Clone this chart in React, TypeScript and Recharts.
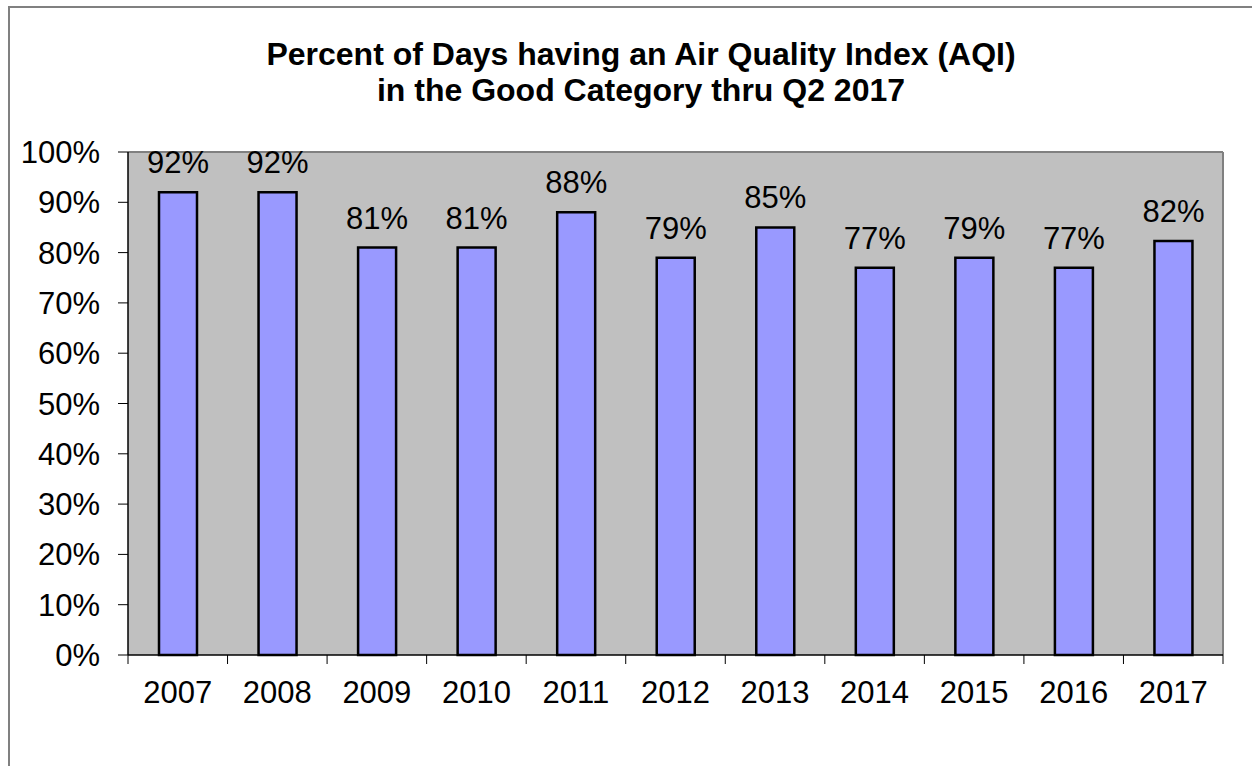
import { BarChart, Bar, XAxis, YAxis, CartesianGrid, LabelList } from 'recharts';

// Percent of days in the "Good" AQI category, by year (2017 = thru Q2)
const years = ['2007', '2008', '2009', '2010', '2011', '2012', '2013', '2014', '2015', '2016', '2017'];
const goodPct = [92, 92, 81, 81, 88, 79, 85, 77, 79, 77, 82.3];
const yTicks = [0, 10, 20, 30, 40, 50, 60, 70, 80, 90, 100];
const titleLines = ['Percent of Days having an Air Quality Index (AQI)', 'in the Good Category thru Q2 2017'];

const data = years.map((year, i) => ({ year, value: goodPct[i] }));

const FONT = '"Liberation Sans", Arial, sans-serif';
const X_TICK_MARGIN = 26;
const X_TICK_LEN = 9;

// year label plus a tick mark on the category boundary (Excel style)
function YearTick(props: any) {
    const { x, y, payload, index, visibleTicksCount, width } = props;
    const half = payload && payload.offset ? payload.offset : width / visibleTicksCount / 2;
    const axisY = y - X_TICK_MARGIN;
    const marks = [x - half];
    if (index === visibleTicksCount - 1) marks.push(x + half);
    return (
        <g>
            {marks.map((mx, i) => (
                <line key={i} x1={mx} x2={mx} y1={axisY} y2={axisY + X_TICK_LEN} stroke="#000" strokeWidth={1} />
            ))}
            <text x={x} y={y} dy="0.71em" textAnchor="middle" fontSize={31} fill="#000" fontFamily={FONT}>
                {payload.value}
            </text>
        </g>
    );
}

export default function App() {
    return (
        <div style={{ position: 'absolute', left: 0, top: 0, width: 1252, height: 766, overflow: 'hidden', background: '#fff' }}>
            <div style={{ position: 'absolute', left: 8, top: 6, width: 1400, height: 900, borderLeft: '2px solid #808080', borderTop: '2px solid #808080' }} />
            <svg width={1252} height={130} style={{ position: 'absolute', left: 0, top: 0 }}>
                <text x={641} y={65} textAnchor="middle" fontFamily={FONT} fontWeight="bold" fontSize={32} fill="#000">{titleLines[0]}</text>
                <text x={641} y={101} textAnchor="middle" fontFamily={FONT} fontWeight="bold" fontSize={32} fill="#000">{titleLines[1]}</text>
            </svg>
            <div style={{ position: 'absolute', left: 0, top: 0 }}>
                <BarChart
                    width={1252}
                    height={766}
                    data={data}
                    margin={{ top: 152, right: 29, left: 28, bottom: 51 }}
                    style={{ fontFamily: FONT }}
                >
                    <CartesianGrid
                        fill="#C0C0C0"
                        fillOpacity={1}
                        stroke="#808080"
                        strokeWidth={2}
                        horizontalCoordinatesGenerator={({ offset }: any) => [offset.top]}
                        verticalCoordinatesGenerator={({ offset }: any) => [offset.left + offset.width]}
                    />
                    <XAxis
                        dataKey="year"
                        height={60}
                        axisLine={{ stroke: '#000', strokeWidth: 1.5 }}
                        tickLine={false}
                        tickSize={0}
                        tickMargin={X_TICK_MARGIN}
                        interval={0}
                        tick={<YearTick />}
                    />
                    <YAxis
                        domain={[0, 100]}
                        ticks={yTicks}
                        interval={0}
                        width={100}
                        tickSize={10}
                        tickMargin={18}
                        tickFormatter={(v) => `${v}%`}
                        tick={{ fontSize: 31, fill: '#000' }}
                        axisLine={{ stroke: '#000', strokeWidth: 1.5 }}
                        tickLine={{ stroke: '#000' }}
                    />
                    <Bar
                        dataKey="value"
                        fill="#9999FF"
                        stroke="#000"
                        strokeWidth={2.5}
                        barSize={38}
                        isAnimationActive={false}
                    >
                        <LabelList
                            dataKey="value"
                            position="top"
                            offset={19}
                            formatter={(v: any) => `${Math.round(Number(v))}%`}
                            style={{ fontSize: 31, fill: '#000' }}
                        />
                    </Bar>
                </BarChart>
            </div>
        </div>
    );
}
